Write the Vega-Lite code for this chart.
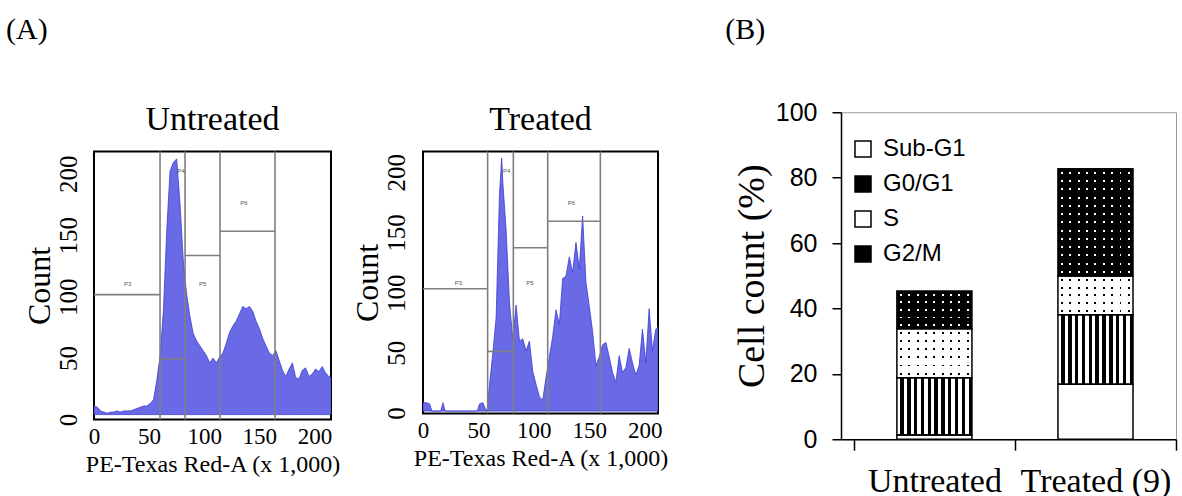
{
 "$schema": "https://vega.github.io/schema/vega-lite/v6.json",
 "background": "white",
 "padding": {"left": 6, "top": 14, "right": 2, "bottom": 0},
 "config": {
  "font": "Liberation Serif",
  "view": {"stroke": null},
  "title": {"font": "Liberation Serif", "fontWeight": "normal", "color": "black"},
  "axis": {"labelColor": "black", "titleColor": "black", "titleFontWeight": "normal", "grid": false, "labelFont": "Liberation Serif", "titleFont": "Liberation Serif"}
 },
 "datasets": {
  "untreated": [
   {"x":0,"count":7},{"x":3,"count":6},{"x":6,"count":3},{"x":9,"count":2},{"x":12,"count":1},{"x":15,"count":2},{"x":18,"count":2},{"x":21,"count":3},{"x":24,"count":2},{"x":27,"count":3},{"x":30,"count":3},{"x":33,"count":3},{"x":36,"count":4},{"x":39,"count":5},{"x":42,"count":6},{"x":45,"count":7},{"x":48,"count":7},{"x":51,"count":9},{"x":54,"count":12},{"x":57,"count":28},{"x":60,"count":48},{"x":63,"count":85},{"x":66,"count":150},{"x":69,"count":198},{"x":72,"count":205},{"x":75,"count":208},{"x":78,"count":172},{"x":81,"count":125},{"x":84,"count":98},{"x":87,"count":80},{"x":90,"count":66},{"x":93,"count":60},{"x":96,"count":56},{"x":99,"count":52},{"x":102,"count":48},{"x":105,"count":42},{"x":108,"count":46},{"x":111,"count":42},{"x":114,"count":47},{"x":117,"count":50},{"x":120,"count":58},{"x":123,"count":67},{"x":126,"count":72},{"x":129,"count":76},{"x":132,"count":82},{"x":135,"count":88},{"x":138,"count":86},{"x":141,"count":88},{"x":144,"count":84},{"x":147,"count":76},{"x":150,"count":70},{"x":153,"count":62},{"x":156,"count":56},{"x":159,"count":50},{"x":162,"count":48},{"x":165,"count":52},{"x":168,"count":44},{"x":171,"count":36},{"x":174,"count":31},{"x":177,"count":37},{"x":180,"count":42},{"x":183,"count":30},{"x":186,"count":29},{"x":189,"count":36},{"x":192,"count":38},{"x":195,"count":31},{"x":198,"count":33},{"x":201,"count":37},{"x":204,"count":35},{"x":207,"count":39},{"x":210,"count":34},{"x":213,"count":31},{"x":215,"count":30}
  ],
  "treated": [
   {"x":0,"count":7},{"x":3,"count":7},{"x":6,"count":6},{"x":8,"count":0},{"x":16,"count":0},{"x":18,"count":7},{"x":20,"count":0},{"x":49,"count":0},{"x":51,"count":6},{"x":54,"count":7},{"x":57,"count":0},{"x":58,"count":2},{"x":60,"count":22},{"x":63,"count":48},{"x":66,"count":78},{"x":69,"count":180},{"x":71,"count":210},{"x":72,"count":190},{"x":75,"count":150},{"x":78,"count":90},{"x":81,"count":60},{"x":84,"count":88},{"x":87,"count":58},{"x":90,"count":60},{"x":93,"count":50},{"x":96,"count":58},{"x":99,"count":33},{"x":102,"count":22},{"x":105,"count":12},{"x":108,"count":9},{"x":111,"count":28},{"x":114,"count":45},{"x":117,"count":62},{"x":120,"count":84},{"x":123,"count":72},{"x":126,"count":110},{"x":129,"count":112},{"x":132,"count":128},{"x":135,"count":115},{"x":138,"count":140},{"x":141,"count":118},{"x":144,"count":162},{"x":147,"count":107},{"x":150,"count":87},{"x":153,"count":66},{"x":156,"count":38},{"x":159,"count":45},{"x":162,"count":55},{"x":165,"count":57},{"x":168,"count":45},{"x":171,"count":32},{"x":174,"count":24},{"x":177,"count":46},{"x":180,"count":32},{"x":183,"count":36},{"x":186,"count":52},{"x":189,"count":40},{"x":192,"count":30},{"x":195,"count":38},{"x":198,"count":68},{"x":201,"count":40},{"x":204,"count":85},{"x":207,"count":50},{"x":210,"count":68},{"x":212,"count":70}
  ],
  "gates": [
   {"panel":"U","kind":"v","x1":59.9},{"panel":"U","kind":"v","x1":82.6},{"panel":"U","kind":"v","x1":114.3},{"panel":"U","kind":"v","x1":164.2},
   {"panel":"U","kind":"h","x1":0,"x2":59.9,"y":97.6},{"panel":"U","kind":"h","x1":59.9,"x2":82.6,"y":45.3},{"panel":"U","kind":"h","x1":82.6,"x2":114.3,"y":129.4},{"panel":"U","kind":"h","x1":114.3,"x2":164.2,"y":149.1},
   {"panel":"T","kind":"v","x1":58.3},{"panel":"T","kind":"v","x1":81.5},{"panel":"T","kind":"v","x1":112.5},{"panel":"T","kind":"v","x1":160},
   {"panel":"T","kind":"h","x1":0,"x2":58.3,"y":101.5},{"panel":"T","kind":"h","x1":58.3,"x2":81.5,"y":49.5},{"panel":"T","kind":"h","x1":81.5,"x2":112.5,"y":135.6},{"panel":"T","kind":"h","x1":112.5,"x2":160,"y":157.6}
  ],
  "plabels": [
   {"panel":"U","x":30.5,"y":106,"label":"P3"},{"panel":"U","x":79,"y":198,"label":"P4"},{"panel":"U","x":98.6,"y":106,"label":"P5"},{"panel":"U","x":136,"y":172,"label":"P6"},
   {"panel":"T","x":31.9,"y":106.5,"label":"P3"},{"panel":"T","x":75.5,"y":199,"label":"P4"},{"panel":"T","x":96.5,"y":106.5,"label":"P5"},{"panel":"T","x":134,"y":173,"label":"P6"}
  ],
  "cycle": [
   {"group":"Untreated","phase":"Sub-G1","order":1,"pct":1.3},
   {"group":"Untreated","phase":"G0/G1","order":2,"pct":17.5},
   {"group":"Untreated","phase":"S","order":3,"pct":15.0},
   {"group":"Untreated","phase":"G2/M","order":4,"pct":11.5},
   {"group":"Treated (9)","phase":"Sub-G1","order":1,"pct":16.8},
   {"group":"Treated (9)","phase":"G0/G1","order":2,"pct":21.3},
   {"group":"Treated (9)","phase":"S","order":3,"pct":11.8},
   {"group":"Treated (9)","phase":"G2/M","order":4,"pct":32.8}
  ]
 },
 "spacing": 54,
 "center": true,
 "hconcat": [
  {
   "title": {"text": "(A)", "anchor": "start", "fontSize": 30, "offset": 57, "dx": -16},
   "spacing": 8,
   "hconcat": [
    {
     "title": {"text": "Untreated", "fontSize": 34, "offset": 14},
     "width": 237, "height": 268,
     "view": {"stroke": "black", "strokeWidth": 2},
     "layer": [
      {"data": {"name": "untreated"},
       "mark": {"type": "area", "fill": "#6a6ae6", "stroke": "#3b3bd2", "strokeWidth": 0.8, "clip": true},
       "encoding": {
        "x": {"field": "x", "type": "quantitative", "scale": {"domain": [0, 215], "nice": false, "zero": false},
              "axis": {"title": "PE-Texas Red-A (x 1,000)", "values": [0,50,100,150,200], "labelFontSize": 23, "labelPadding": 6, "ticks": false, "domain": false, "labelFlush": false, "titleFontSize": 24, "titlePadding": 4}},
        "y": {"field": "count", "type": "quantitative", "scale": {"domain": [-4, 214], "nice": false, "zero": false},
              "axis": {"title": "Count", "values": [0,50,100,150,200], "labelAngle": -90, "labelFontSize": 25, "labelPadding": 13, "labelOffset": 5, "ticks": false, "domain": false, "labelFlush": false, "titleFontSize": 32, "titlePadding": 0}},
        "y2": {"datum": 0}
       }},
      {"data": {"name": "gates"}, "transform": [{"filter": "datum.panel === 'U' && datum.kind === 'v'"}],
       "mark": {"type": "rule", "color": "#7f7f7f", "strokeWidth": 1.6},
       "encoding": {"x": {"field": "x1", "type": "quantitative"}}},
      {"data": {"name": "gates"}, "transform": [{"filter": "datum.panel === 'U' && datum.kind === 'h'"}],
       "mark": {"type": "rule", "color": "#7f7f7f", "strokeWidth": 1.6},
       "encoding": {"x": {"field": "x1", "type": "quantitative"}, "x2": {"field": "x2"}, "y": {"field": "y", "type": "quantitative"}}},
      {"data": {"name": "plabels"}, "transform": [{"filter": "datum.panel === 'U'"}],
       "mark": {"type": "text", "fontSize": 6, "color": "#555", "font": "Liberation Sans"},
       "encoding": {"x": {"field": "x", "type": "quantitative"}, "y": {"field": "y", "type": "quantitative"}, "text": {"field": "label"}}}
     ]
    },
    {
     "title": {"text": "Treated", "fontSize": 34, "offset": 14},
     "width": 235, "height": 262,
     "view": {"stroke": "black", "strokeWidth": 2},
     "layer": [
      {"data": {"name": "treated"},
       "mark": {"type": "area", "fill": "#6a6ae6", "stroke": "#3b3bd2", "strokeWidth": 0.8, "clip": true},
       "encoding": {
        "x": {"field": "x", "type": "quantitative", "scale": {"domain": [0, 212], "nice": false, "zero": false},
              "axis": {"title": "PE-Texas Red-A (x 1,000)", "values": [0,50,100,150,200], "labelFontSize": 23, "labelPadding": 6, "ticks": false, "domain": false, "labelFlush": false, "titleFontSize": 24, "titlePadding": 4}},
        "y": {"field": "count", "type": "quantitative", "scale": {"domain": [-2, 215.5], "nice": false, "zero": false},
              "axis": {"title": "Count", "values": [0,50,100,150,200], "labelAngle": -90, "labelFontSize": 25, "labelPadding": 14, "labelOffset": 2, "ticks": false, "domain": false, "labelFlush": false, "titleFontSize": 32, "titlePadding": 0}},
        "y2": {"datum": 0}
       }},
      {"data": {"name": "gates"}, "transform": [{"filter": "datum.panel === 'T' && datum.kind === 'v'"}],
       "mark": {"type": "rule", "color": "#7f7f7f", "strokeWidth": 1.6},
       "encoding": {"x": {"field": "x1", "type": "quantitative"}}},
      {"data": {"name": "gates"}, "transform": [{"filter": "datum.panel === 'T' && datum.kind === 'h'"}],
       "mark": {"type": "rule", "color": "#7f7f7f", "strokeWidth": 1.6},
       "encoding": {"x": {"field": "x1", "type": "quantitative"}, "x2": {"field": "x2"}, "y": {"field": "y", "type": "quantitative"}}},
      {"data": {"name": "plabels"}, "transform": [{"filter": "datum.panel === 'T'"}],
       "mark": {"type": "text", "fontSize": 6, "color": "#555", "font": "Liberation Sans"},
       "encoding": {"x": {"field": "x", "type": "quantitative"}, "y": {"field": "y", "type": "quantitative"}, "text": {"field": "label"}}}
     ]
    }
   ]
  },
  {
   "title": {"text": "(B)", "anchor": "start", "fontSize": 30, "offset": 55, "dx": -8},
   "width": 335, "height": 327,
   "view": {"stroke": "#9a9a9a", "strokeWidth": 1},
   "data": {"name": "cycle"},
   "transform": [{"stack": "pct", "groupby": ["group"], "sort": [{"field": "order", "order": "ascending"}], "as": ["lo", "hi"]}],
   "encoding": {
    "x": {"field": "group", "type": "nominal", "sort": ["Untreated", "Treated (9)"], "scale": {"paddingInner": 0, "paddingOuter": 0.04, "align": 1},
          "axis": {"title": " ", "titleFontSize": 16, "titlePadding": 2, "labelAngle": 0, "labelFontSize": 34, "labelPadding": 14, "tickBand": "extent", "tickSize": 11, "tickColor": "black", "domainColor": "black", "domainWidth": 1.5, "tickWidth": 1.5}},
    "y": {"field": "lo", "type": "quantitative", "scale": {"domain": [0, 100], "nice": false},
          "axis": {"title": "Cell count (%)", "values": [0,20,40,60,80,100], "labelFont": "Liberation Sans", "labelFontSize": 25, "labelPadding": 15, "tickSize": 9, "tickColor": "black", "domainColor": "black", "domainWidth": 1.5, "tickWidth": 1.5, "titleFontSize": 38, "titlePadding": 4, "labelFlush": false}},
    "y2": {"field": "hi"}
   },
   "layer": [
    {"transform": [{"filter": "datum.phase === 'Sub-G1'"}], "mark": {"type": "bar", "width": {"band": 0.466}, "fill": "white"}},
    {"transform": [{"filter": "datum.phase === 'G0/G1'"}], "mark": {"type": "bar", "width": {"band": 0.466}, "fill": {"gradient": "linear", "x1": 0, "y1": 0, "x2": 1, "y2": 0, "stops": [
      {"offset":0,"color":"white"},{"offset":0.04545,"color":"white"},{"offset":0.04545,"color":"black"},{"offset":0.09091,"color":"black"},
      {"offset":0.09091,"color":"white"},{"offset":0.13636,"color":"white"},{"offset":0.13636,"color":"black"},{"offset":0.18182,"color":"black"},
      {"offset":0.18182,"color":"white"},{"offset":0.22727,"color":"white"},{"offset":0.22727,"color":"black"},{"offset":0.27273,"color":"black"},
      {"offset":0.27273,"color":"white"},{"offset":0.31818,"color":"white"},{"offset":0.31818,"color":"black"},{"offset":0.36364,"color":"black"},
      {"offset":0.36364,"color":"white"},{"offset":0.40909,"color":"white"},{"offset":0.40909,"color":"black"},{"offset":0.45455,"color":"black"},
      {"offset":0.45455,"color":"white"},{"offset":0.5,"color":"white"},{"offset":0.5,"color":"black"},{"offset":0.54545,"color":"black"},
      {"offset":0.54545,"color":"white"},{"offset":0.59091,"color":"white"},{"offset":0.59091,"color":"black"},{"offset":0.63636,"color":"black"},
      {"offset":0.63636,"color":"white"},{"offset":0.68182,"color":"white"},{"offset":0.68182,"color":"black"},{"offset":0.72727,"color":"black"},
      {"offset":0.72727,"color":"white"},{"offset":0.77273,"color":"white"},{"offset":0.77273,"color":"black"},{"offset":0.81818,"color":"black"},
      {"offset":0.81818,"color":"white"},{"offset":0.86364,"color":"white"},{"offset":0.86364,"color":"black"},{"offset":0.90909,"color":"black"},
      {"offset":0.90909,"color":"white"},{"offset":0.95455,"color":"white"},{"offset":0.95455,"color":"black"},{"offset":1,"color":"black"}]}}},
    {"transform": [{"filter": "datum.phase === 'S'"}], "mark": {"type": "bar", "width": {"band": 0.466}, "fill": "black"}},
    {"transform": [{"filter": "datum.phase === 'S'"}], "mark": {"type": "bar", "width": {"band": 0.466}, "fill": {"gradient": "linear", "x1": 0, "y1": 0, "x2": 1, "y2": 0, "stops": [
      {"offset":0,"color":"white"},
      {"offset":0.0426,"color":"white"},{"offset":0.0426,"color":"rgba(255,255,255,0)"},{"offset":0.0686,"color":"rgba(255,255,255,0)"},{"offset":0.0686,"color":"white"},
      {"offset":0.1537,"color":"white"},{"offset":0.1537,"color":"rgba(255,255,255,0)"},{"offset":0.1797,"color":"rgba(255,255,255,0)"},{"offset":0.1797,"color":"white"},
      {"offset":0.2648,"color":"white"},{"offset":0.2648,"color":"rgba(255,255,255,0)"},{"offset":0.2908,"color":"rgba(255,255,255,0)"},{"offset":0.2908,"color":"white"},
      {"offset":0.3759,"color":"white"},{"offset":0.3759,"color":"rgba(255,255,255,0)"},{"offset":0.4019,"color":"rgba(255,255,255,0)"},{"offset":0.4019,"color":"white"},
      {"offset":0.487,"color":"white"},{"offset":0.487,"color":"rgba(255,255,255,0)"},{"offset":0.513,"color":"rgba(255,255,255,0)"},{"offset":0.513,"color":"white"},
      {"offset":0.5981,"color":"white"},{"offset":0.5981,"color":"rgba(255,255,255,0)"},{"offset":0.6241,"color":"rgba(255,255,255,0)"},{"offset":0.6241,"color":"white"},
      {"offset":0.7092,"color":"white"},{"offset":0.7092,"color":"rgba(255,255,255,0)"},{"offset":0.7352,"color":"rgba(255,255,255,0)"},{"offset":0.7352,"color":"white"},
      {"offset":0.8203,"color":"white"},{"offset":0.8203,"color":"rgba(255,255,255,0)"},{"offset":0.8463,"color":"rgba(255,255,255,0)"},{"offset":0.8463,"color":"white"},
      {"offset":0.9314,"color":"white"},{"offset":0.9314,"color":"rgba(255,255,255,0)"},{"offset":0.9574,"color":"rgba(255,255,255,0)"},{"offset":0.9574,"color":"white"},
      {"offset":1,"color":"white"}]}}},
    {"transform": [{"filter": "datum.phase === 'S' && datum.group === 'Untreated'"}], "mark": {"type": "bar", "width": {"band": 0.466}, "fill": {"gradient": "linear", "x1": 0, "y1": 0, "x2": 0, "y2": 1, "stops": [
      {"offset":0,"color":"white"},
      {"offset":0.063,"color":"white"},{"offset":0.063,"color":"rgba(255,255,255,0)"},{"offset":0.103,"color":"rgba(255,255,255,0)"},{"offset":0.103,"color":"white"},
      {"offset":0.23,"color":"white"},{"offset":0.23,"color":"rgba(255,255,255,0)"},{"offset":0.27,"color":"rgba(255,255,255,0)"},{"offset":0.27,"color":"white"},
      {"offset":0.397,"color":"white"},{"offset":0.397,"color":"rgba(255,255,255,0)"},{"offset":0.437,"color":"rgba(255,255,255,0)"},{"offset":0.437,"color":"white"},
      {"offset":0.563,"color":"white"},{"offset":0.563,"color":"rgba(255,255,255,0)"},{"offset":0.603,"color":"rgba(255,255,255,0)"},{"offset":0.603,"color":"white"},
      {"offset":0.73,"color":"white"},{"offset":0.73,"color":"rgba(255,255,255,0)"},{"offset":0.77,"color":"rgba(255,255,255,0)"},{"offset":0.77,"color":"white"},
      {"offset":0.897,"color":"white"},{"offset":0.897,"color":"rgba(255,255,255,0)"},{"offset":0.937,"color":"rgba(255,255,255,0)"},{"offset":0.937,"color":"white"},
      {"offset":1,"color":"white"}]}}},
    {"transform": [{"filter": "datum.phase === 'S' && datum.group === 'Treated (9)'"}], "mark": {"type": "bar", "width": {"band": 0.466}, "fill": {"gradient": "linear", "x1": 0, "y1": 0, "x2": 0, "y2": 1, "stops": [
      {"offset":0,"color":"white"},
      {"offset":0.075,"color":"white"},{"offset":0.075,"color":"rgba(255,255,255,0)"},{"offset":0.125,"color":"rgba(255,255,255,0)"},{"offset":0.125,"color":"white"},
      {"offset":0.275,"color":"white"},{"offset":0.275,"color":"rgba(255,255,255,0)"},{"offset":0.325,"color":"rgba(255,255,255,0)"},{"offset":0.325,"color":"white"},
      {"offset":0.475,"color":"white"},{"offset":0.475,"color":"rgba(255,255,255,0)"},{"offset":0.525,"color":"rgba(255,255,255,0)"},{"offset":0.525,"color":"white"},
      {"offset":0.675,"color":"white"},{"offset":0.675,"color":"rgba(255,255,255,0)"},{"offset":0.725,"color":"rgba(255,255,255,0)"},{"offset":0.725,"color":"white"},
      {"offset":0.875,"color":"white"},{"offset":0.875,"color":"rgba(255,255,255,0)"},{"offset":0.925,"color":"rgba(255,255,255,0)"},{"offset":0.925,"color":"white"},
      {"offset":1,"color":"white"}]}}},
    {"transform": [{"filter": "datum.phase === 'G2/M'"}], "mark": {"type": "bar", "width": {"band": 0.466}, "fill": "white"}},
    {"transform": [{"filter": "datum.phase === 'G2/M'"}], "mark": {"type": "bar", "width": {"band": 0.466}, "fill": {"gradient": "linear", "x1": 0, "y1": 0, "x2": 1, "y2": 0, "stops": [
      {"offset":0,"color":"black"},
      {"offset":0.0426,"color":"black"},{"offset":0.0426,"color":"rgba(0,0,0,0)"},{"offset":0.0686,"color":"rgba(0,0,0,0)"},{"offset":0.0686,"color":"black"},
      {"offset":0.1537,"color":"black"},{"offset":0.1537,"color":"rgba(0,0,0,0)"},{"offset":0.1797,"color":"rgba(0,0,0,0)"},{"offset":0.1797,"color":"black"},
      {"offset":0.2648,"color":"black"},{"offset":0.2648,"color":"rgba(0,0,0,0)"},{"offset":0.2908,"color":"rgba(0,0,0,0)"},{"offset":0.2908,"color":"black"},
      {"offset":0.3759,"color":"black"},{"offset":0.3759,"color":"rgba(0,0,0,0)"},{"offset":0.4019,"color":"rgba(0,0,0,0)"},{"offset":0.4019,"color":"black"},
      {"offset":0.487,"color":"black"},{"offset":0.487,"color":"rgba(0,0,0,0)"},{"offset":0.513,"color":"rgba(0,0,0,0)"},{"offset":0.513,"color":"black"},
      {"offset":0.5981,"color":"black"},{"offset":0.5981,"color":"rgba(0,0,0,0)"},{"offset":0.6241,"color":"rgba(0,0,0,0)"},{"offset":0.6241,"color":"black"},
      {"offset":0.7092,"color":"black"},{"offset":0.7092,"color":"rgba(0,0,0,0)"},{"offset":0.7352,"color":"rgba(0,0,0,0)"},{"offset":0.7352,"color":"black"},
      {"offset":0.8203,"color":"black"},{"offset":0.8203,"color":"rgba(0,0,0,0)"},{"offset":0.8463,"color":"rgba(0,0,0,0)"},{"offset":0.8463,"color":"black"},
      {"offset":0.9314,"color":"black"},{"offset":0.9314,"color":"rgba(0,0,0,0)"},{"offset":0.9574,"color":"rgba(0,0,0,0)"},{"offset":0.9574,"color":"black"},
      {"offset":1,"color":"black"}]}}},
    {"transform": [{"filter": "datum.phase === 'G2/M' && datum.group === 'Untreated'"}], "mark": {"type": "bar", "width": {"band": 0.466}, "fill": {"gradient": "linear", "x1": 0, "y1": 0, "x2": 0, "y2": 1, "stops": [
      {"offset":0,"color":"black"},
      {"offset":0.075,"color":"black"},{"offset":0.075,"color":"rgba(0,0,0,0)"},{"offset":0.125,"color":"rgba(0,0,0,0)"},{"offset":0.125,"color":"black"},
      {"offset":0.275,"color":"black"},{"offset":0.275,"color":"rgba(0,0,0,0)"},{"offset":0.325,"color":"rgba(0,0,0,0)"},{"offset":0.325,"color":"black"},
      {"offset":0.475,"color":"black"},{"offset":0.475,"color":"rgba(0,0,0,0)"},{"offset":0.525,"color":"rgba(0,0,0,0)"},{"offset":0.525,"color":"black"},
      {"offset":0.675,"color":"black"},{"offset":0.675,"color":"rgba(0,0,0,0)"},{"offset":0.725,"color":"rgba(0,0,0,0)"},{"offset":0.725,"color":"black"},
      {"offset":0.875,"color":"black"},{"offset":0.875,"color":"rgba(0,0,0,0)"},{"offset":0.925,"color":"rgba(0,0,0,0)"},{"offset":0.925,"color":"black"},
      {"offset":1,"color":"black"}]}}},
    {"transform": [{"filter": "datum.phase === 'G2/M' && datum.group === 'Treated (9)'"}], "mark": {"type": "bar", "width": {"band": 0.466}, "fill": {"gradient": "linear", "x1": 0, "y1": 0, "x2": 0, "y2": 1, "stops": [
      {"offset":0,"color":"black"},
      {"offset":0.0295,"color":"black"},{"offset":0.0295,"color":"rgba(0,0,0,0)"},{"offset":0.0475,"color":"rgba(0,0,0,0)"},{"offset":0.0475,"color":"black"},
      {"offset":0.1064,"color":"black"},{"offset":0.1064,"color":"rgba(0,0,0,0)"},{"offset":0.1244,"color":"rgba(0,0,0,0)"},{"offset":0.1244,"color":"black"},
      {"offset":0.1833,"color":"black"},{"offset":0.1833,"color":"rgba(0,0,0,0)"},{"offset":0.2013,"color":"rgba(0,0,0,0)"},{"offset":0.2013,"color":"black"},
      {"offset":0.2602,"color":"black"},{"offset":0.2602,"color":"rgba(0,0,0,0)"},{"offset":0.2782,"color":"rgba(0,0,0,0)"},{"offset":0.2782,"color":"black"},
      {"offset":0.3372,"color":"black"},{"offset":0.3372,"color":"rgba(0,0,0,0)"},{"offset":0.3552,"color":"rgba(0,0,0,0)"},{"offset":0.3552,"color":"black"},
      {"offset":0.4141,"color":"black"},{"offset":0.4141,"color":"rgba(0,0,0,0)"},{"offset":0.4321,"color":"rgba(0,0,0,0)"},{"offset":0.4321,"color":"black"},
      {"offset":0.491,"color":"black"},{"offset":0.491,"color":"rgba(0,0,0,0)"},{"offset":0.509,"color":"rgba(0,0,0,0)"},{"offset":0.509,"color":"black"},
      {"offset":0.5679,"color":"black"},{"offset":0.5679,"color":"rgba(0,0,0,0)"},{"offset":0.5859,"color":"rgba(0,0,0,0)"},{"offset":0.5859,"color":"black"},
      {"offset":0.6448,"color":"black"},{"offset":0.6448,"color":"rgba(0,0,0,0)"},{"offset":0.6628,"color":"rgba(0,0,0,0)"},{"offset":0.6628,"color":"black"},
      {"offset":0.7218,"color":"black"},{"offset":0.7218,"color":"rgba(0,0,0,0)"},{"offset":0.7398,"color":"rgba(0,0,0,0)"},{"offset":0.7398,"color":"black"},
      {"offset":0.7987,"color":"black"},{"offset":0.7987,"color":"rgba(0,0,0,0)"},{"offset":0.8167,"color":"rgba(0,0,0,0)"},{"offset":0.8167,"color":"black"},
      {"offset":0.8756,"color":"black"},{"offset":0.8756,"color":"rgba(0,0,0,0)"},{"offset":0.8936,"color":"rgba(0,0,0,0)"},{"offset":0.8936,"color":"black"},
      {"offset":0.9525,"color":"black"},{"offset":0.9525,"color":"rgba(0,0,0,0)"},{"offset":0.9705,"color":"rgba(0,0,0,0)"},{"offset":0.9705,"color":"black"},
      {"offset":1,"color":"black"}]}}},
    {"mark": {"type": "bar", "width": {"band": 0.466}, "fillOpacity": 0, "stroke": "black", "strokeWidth": 1.5},
     "encoding": {"fill": {"field": "phase", "type": "nominal", "scale": {"domain": ["Sub-G1", "G0/G1", "S", "G2/M"], "range": ["white", "black", "white", "black"]},
       "legend": {"orient": "none", "legendX": 757, "legendY": 25, "padding": 0, "title": null, "symbolType": "square", "symbolSize": 256, "labelFont": "Liberation Sans", "labelFontSize": 24, "labelColor": "black", "labelOffset": 8, "rowPadding": 11, "symbolStrokeColor": "black", "symbolStrokeWidth": 1.5, "symbolOpacity": 1}}}}
   ]
  }
 ]
}
